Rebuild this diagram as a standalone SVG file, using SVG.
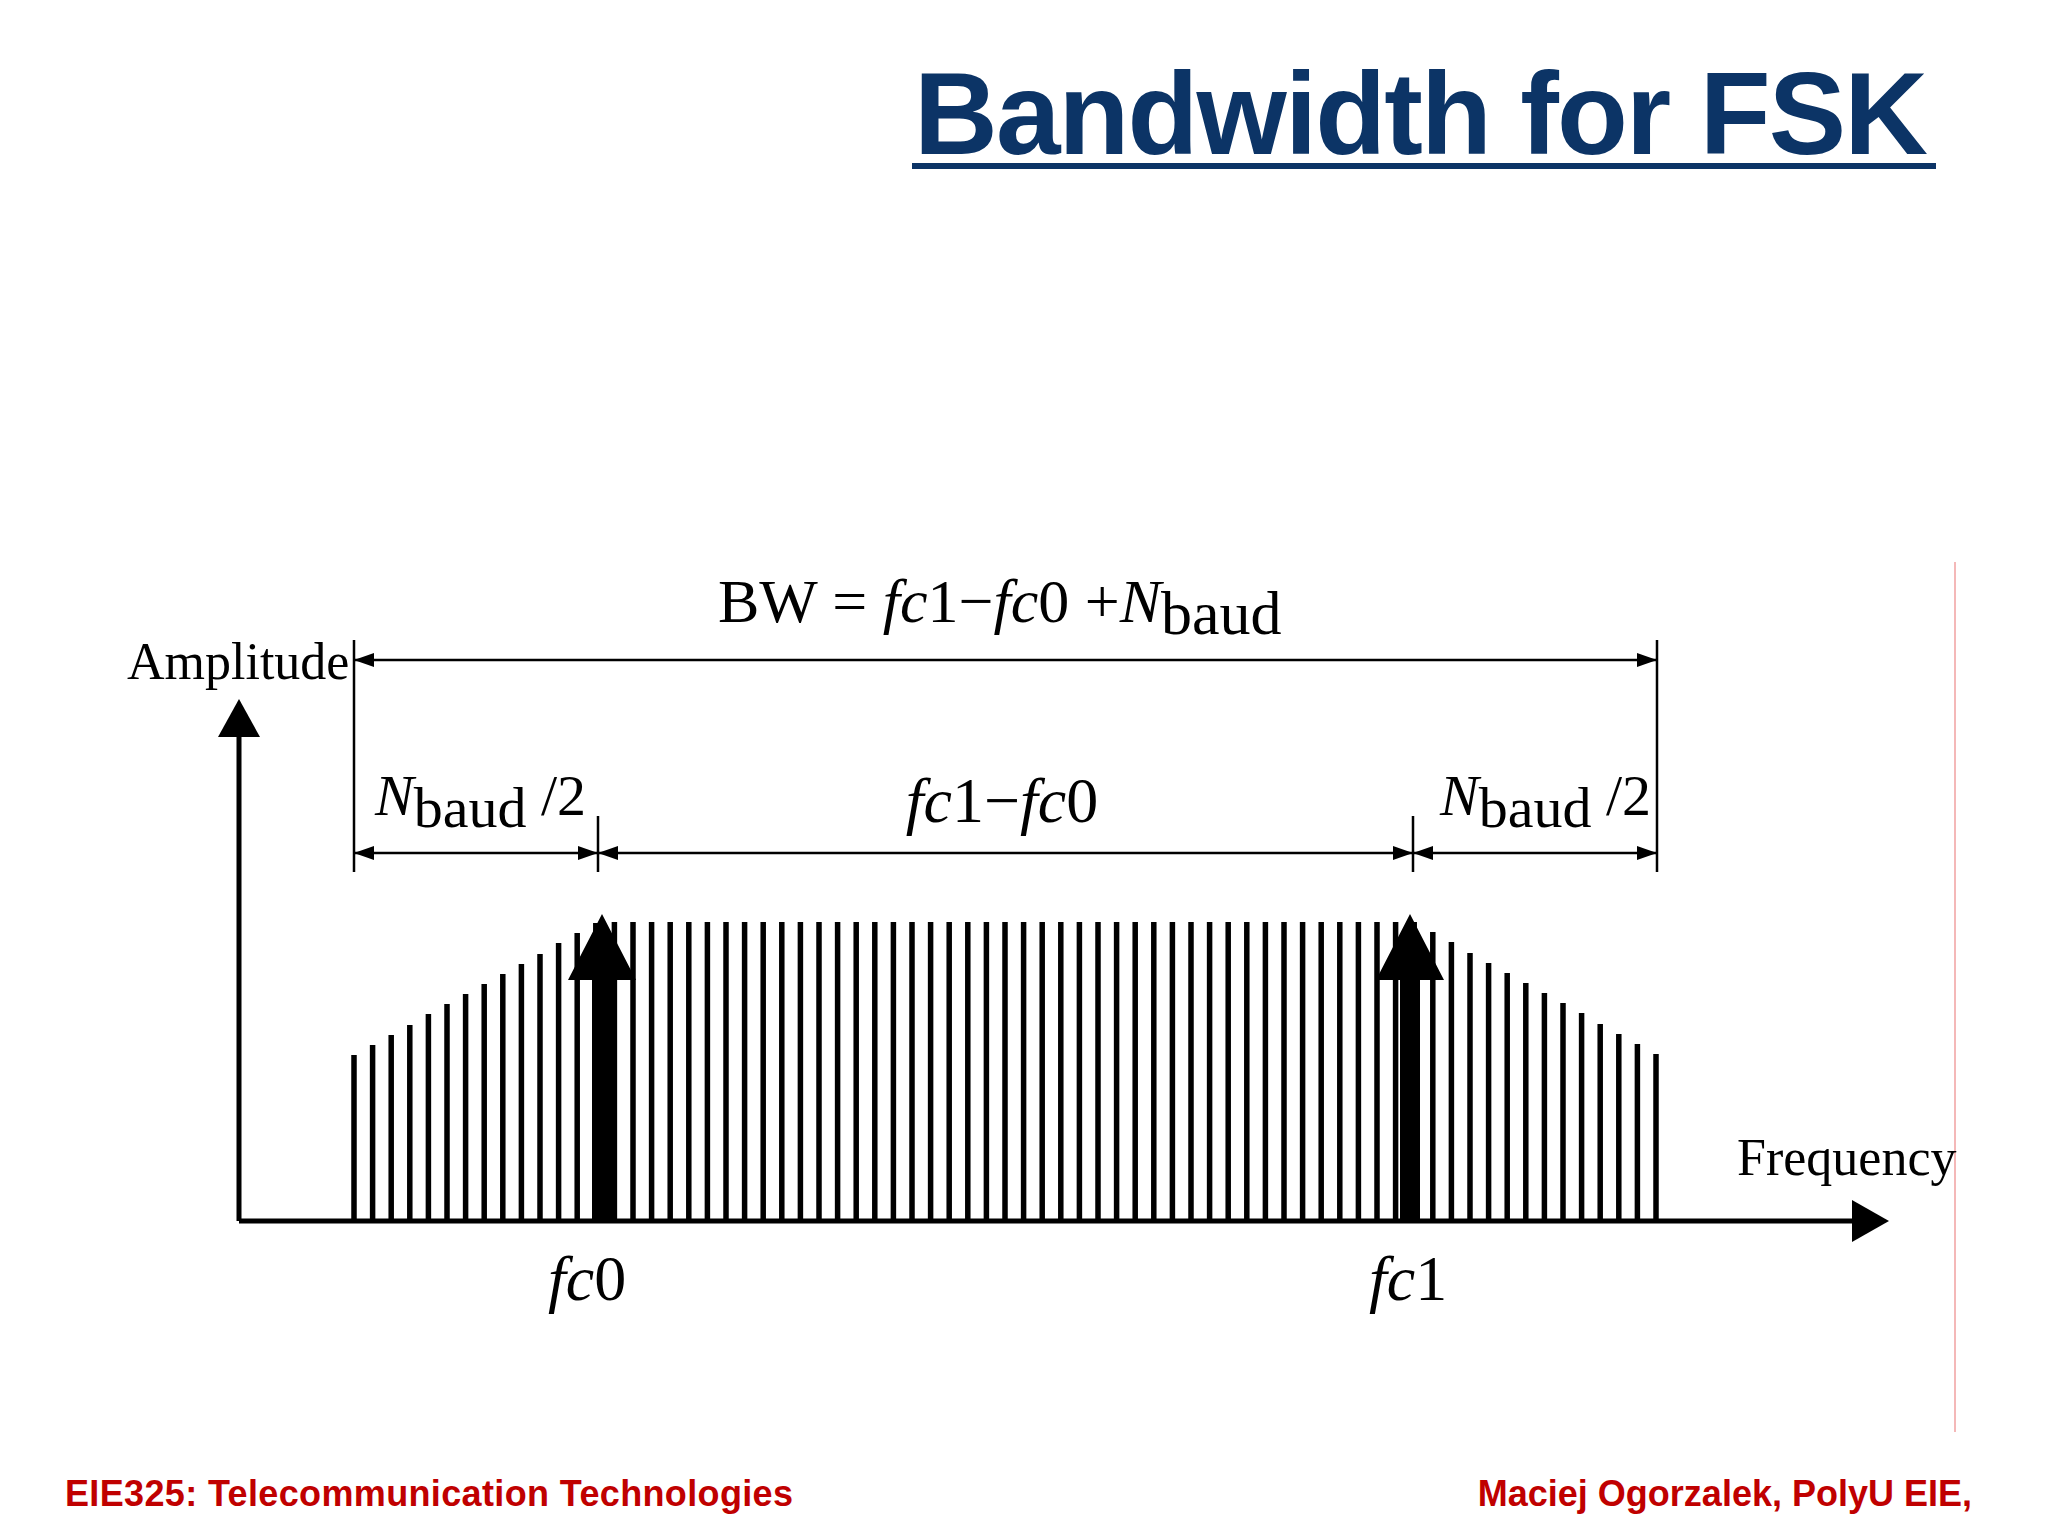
<svg xmlns="http://www.w3.org/2000/svg" width="2048" height="1536" viewBox="0 0 2048 1536">
<style>
.t{font-family:"Liberation Serif",serif;fill:#000}
.d{stroke:#000;stroke-width:2.5;fill:none}
.bar{stroke:#000;stroke-width:5.5;fill:none}
</style>
<defs>
<marker id="ah" viewBox="0 0 10 10" refX="10" refY="5" markerWidth="20" markerHeight="20" markerUnits="userSpaceOnUse" orient="auto-start-reverse"><path d="M0,1.5L10,5L0,8.5z" fill="#000"/></marker>
</defs>
<rect width="2048" height="1536" fill="#fff"/>
<g id="title">
<text x="914" y="154" font-family="Liberation Sans,Arial,sans-serif" font-weight="bold" font-size="116" fill="#0c3466" textLength="1014" lengthAdjust="spacing">Bandwidth for FSK</text>
<rect x="912" y="163" width="1024" height="6" fill="#0c3466"/>
</g>
<line x1="1955" y1="562" x2="1955" y2="1432" stroke="#f4b8b8" stroke-width="2"/>
<g id="spectrum">
<path class="bar" d="M354 1055V1221M372.6 1045V1221M391.2 1035V1221M409.8 1025V1221M428.4 1014V1221M447 1004V1221M465.6 994V1221M484.2 984V1221M502.8 974V1221M521.4 964V1221M540 954V1221M558.6 943V1221M577.2 933V1221M595.8 923V1221M614.4 922V1221M633 922V1221M651.6 922V1221M670.2 922V1221M688.8 922V1221M707.4 922V1221M726 922V1221M744.6 922V1221M763.2 922V1221M781.8 922V1221M800.4 922V1221M819 922V1221M837.6 922V1221M856.2 922V1221M874.8 922V1221M893.4 922V1221M912 922V1221M930.6 922V1221M949.2 922V1221M967.8 922V1221M986.4 922V1221M1005 922V1221M1023.6 922V1221M1042.2 922V1221M1060.8 922V1221M1079.4 922V1221M1098 922V1221M1116.6 922V1221M1135.2 922V1221M1153.8 922V1221M1172.4 922V1221M1191 922V1221M1209.6 922V1221M1228.2 922V1221M1246.8 922V1221M1265.4 922V1221M1284 922V1221M1302.6 922V1221M1321.2 922V1221M1339.8 922V1221M1358.4 922V1221M1377 922V1221M1395.6 922V1221M1414.2 922V1221M1432.8 932V1221M1451.4 942V1221M1470 953V1221M1488.6 963V1221M1507.2 973V1221M1525.8 983V1221M1544.4 993V1221M1563 1003V1221M1581.6 1013V1221M1600.2 1024V1221M1618.8 1034V1221M1637.4 1044V1221M1656 1054V1221"/>
</g>
<g id="carriers">
<path d="M592 1221V980H568L602 914L636 980H612V1221z" fill="#000"/>
<path d="M1400 1221V980H1376L1410 914L1444 980H1420V1221z" fill="#000"/>
</g>
<g id="axes">
<path d="M239 1221V735M239 1221H1852" stroke="#000" stroke-width="5" fill="none"/>
<path d="M239 699L260 737H218z" fill="#000"/>
<path d="M1889 1221L1852 1200V1242z" fill="#000"/>
</g>
<g id="connectors">
<path class="d" d="M354 640V872M1657 640V872M598 816V872M1413 816V872"/>
<line class="d" x1="354" y1="660" x2="1657" y2="660" marker-start="url(#ah)" marker-end="url(#ah)"/>
<line class="d" x1="354" y1="853" x2="598" y2="853" marker-start="url(#ah)" marker-end="url(#ah)"/>
<line class="d" x1="598" y1="853" x2="1413" y2="853" marker-start="url(#ah)" marker-end="url(#ah)"/>
<line class="d" x1="1413" y1="853" x2="1657" y2="853" marker-start="url(#ah)" marker-end="url(#ah)"/>
</g>
<g id="labels">
<text class="t" x="127" y="679" font-size="52">Amplitude</text>
<text class="t" x="1737" y="1175" font-size="52">Frequency</text>
<text class="t" x="718" y="622" font-size="62">BW = <tspan font-style="italic">fc</tspan>1−<tspan font-style="italic">fc</tspan>0 +<tspan font-style="italic">N</tspan><tspan dy="12">baud</tspan></text>
<text class="t" x="375" y="815" font-size="58"><tspan font-style="italic">N</tspan><tspan dy="12">baud</tspan><tspan dy="-12">  /2</tspan></text>
<text class="t" x="1002" y="822" font-size="64" text-anchor="middle"><tspan font-style="italic">fc</tspan>1−<tspan font-style="italic">fc</tspan>0</text>
<text class="t" x="1440" y="815" font-size="58"><tspan font-style="italic">N</tspan><tspan dy="12">baud</tspan><tspan dy="-12"> /2</tspan></text>
<text class="t" x="548" y="1300" font-size="64"><tspan font-style="italic">fc</tspan>0</text>
<text class="t" x="1369" y="1300" font-size="64"><tspan font-style="italic">fc</tspan>1</text>
</g>
<g id="footer" font-family="Liberation Sans,Arial,sans-serif" font-weight="bold" font-size="36" fill="#c00000">
<text x="65" y="1506" textLength="728">EIE325: Telecommunication Technologies</text>
<text x="1972" y="1506" text-anchor="end">Maciej Ogorzalek, PolyU EIE,</text>
</g>
</svg>
